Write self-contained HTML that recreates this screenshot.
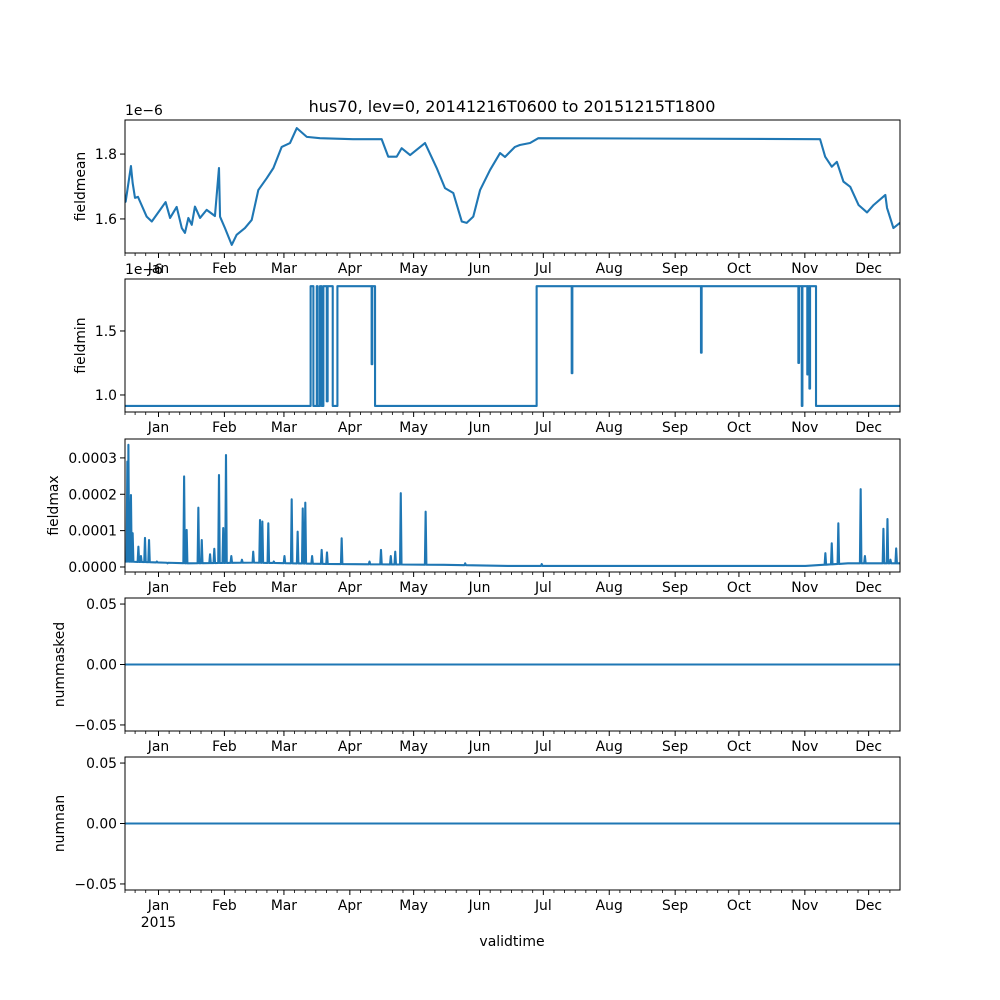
<!DOCTYPE html>
<html><head><meta charset="utf-8"><style>
body{margin:0;background:#fff;}
svg{display:block;font-family:"DejaVu Sans","Liberation Sans",sans-serif;}
</style></head><body>
<svg id="fig" width="1000" height="1000" viewBox="0 0 1000 1000">
<rect width="1000" height="1000" fill="#fff"/>
<text x="512" y="112" font-size="16" text-anchor="middle">hus70, lev=0, 20141216T0600 to 20151215T1800</text>
<text x="512" y="946" font-size="14" text-anchor="middle">validtime</text>
</svg>
<script>
// ---- data (days since 2014-12-16 06:00) ----
const meanDays=[0,0.3,2.8,3.6,4.7,6.1,10.2,12.6,16.5,19.1,21.2,24.3,26.7,28.2,29.8,31.4,32.9,35.3,38.4,42.3,44.2,44.7,47,50.2,52.5,56.4,59.6,62.7,66.7,69.8,73.7,77.6,80.8,85.5,91.7,107.2,120.7,123.8,127.8,130.1,134.1,141.1,146.6,150.5,154.4,158.4,160.7,163.8,167,171.7,176.4,178.7,183.4,185.7,190.5,194.4,326.9,329.3,332.4,334.8,337.9,341.1,345,349,352.1,357.6,358.4,361.4,364.5];
const meanVals=[1.66,1.653,1.763,1.711,1.665,1.668,1.607,1.592,1.628,1.652,1.603,1.637,1.572,1.557,1.603,1.582,1.638,1.603,1.628,1.609,1.757,1.607,1.572,1.52,1.551,1.572,1.597,1.689,1.726,1.757,1.822,1.834,1.88,1.853,1.849,1.846,1.846,1.792,1.792,1.818,1.797,1.834,1.757,1.695,1.68,1.592,1.588,1.607,1.689,1.751,1.803,1.791,1.822,1.828,1.834,1.849,1.846,1.792,1.761,1.776,1.715,1.699,1.643,1.62,1.643,1.674,1.634,1.572,1.588];
const minDays=[0,87.3,87.3,88.6,88.6,90.2,90.2,90.6,90.6,91.7,91.7,92.5,92.5,93.3,93.3,94.9,94.9,95.3,95.3,97.7,97.7,99.9,99.9,116.0,116.0,116.3,116.3,117.6,117.6,193.6,193.6,210.1,210.1,210.4,210.4,270.9,270.9,271.2,271.2,316.7,316.7,317.0,317.0,318.3,318.3,318.6,318.6,320.9,320.9,321.2,321.2,321.9,321.9,322.2,322.2,325.0,325.0,364.5];
const minVals=[0.914,0.914,1.85,1.85,0.914,0.914,1.85,1.85,0.914,0.914,1.85,1.85,0.914,0.914,1.85,1.85,0.95,0.95,1.85,1.85,0.914,0.914,1.85,1.85,1.24,1.24,1.85,1.85,0.914,0.914,1.85,1.85,1.17,1.17,1.85,1.85,1.33,1.33,1.85,1.85,1.25,1.25,1.85,1.85,0.914,0.914,1.85,1.85,1.16,1.16,1.85,1.85,1.05,1.05,1.85,1.85,0.914,0.914];
const spikeDays=[1.1,1.6,2.8,3.6,6.3,7.5,9.4,11.3,15,20,27.8,29,34.5,36.1,40,42,44.2,46.2,47.5,50,55,60.3,63.5,64.6,67.4,70,75,78.4,81.2,83.6,84.8,88,92.5,95,101.9,115,120.4,125,127.1,129.7,141.4,160,196,329.4,332.4,335.5,346,348,356.7,358.6,360,362.7];
const spikeVals=[2.9,3.36,1.98,0.93,0.56,0.3,0.8,0.74,0.15,0.1,2.49,1.02,1.63,0.74,0.35,0.5,2.53,1.07,3.08,0.3,0.2,0.42,1.29,1.25,1.2,0.15,0.3,1.86,0.97,1.61,1.77,0.3,0.47,0.4,0.79,0.15,0.47,0.3,0.42,2.03,1.52,0.1,0.08,0.38,0.65,1.2,2.14,0.3,1.05,1.32,0.2,0.51];
const baseDays=[0,30,60,100,150,180,320,340,364.5];
const baseVals=[0.15,0.1,0.12,0.08,0.06,0.03,0.03,0.1,0.1];
const maskDays=[0,364.5], maskVals=[0,0];
const nanDays=[0,364.5], nanVals=[0,0];
const monthLabels=["Jan","Feb","Mar","Apr","May","Jun","Jul","Aug","Sep","Oct","Nov","Dec"];

const NS="http://www.w3.org/2000/svg";
const svg=document.getElementById('fig');
const X0=125,X1=900,SPAN=364.5;
const t0=Date.UTC(2014,11,16,6);
const xs=d=>X0+d*(X1-X0)/SPAN;
const dayOf=(y,m,dd)=>(Date.UTC(y,m,dd)-t0)/86400000;
function el(tag,attrs,parent){const e=document.createElementNS(NS,tag);for(const k in attrs)e.setAttribute(k,attrs[k]);(parent||svg).appendChild(e);return e;}

const panels=[
 {top:120,name:'fieldmean',lo:1.495,hi:1.905,ticks:[1.6,1.8],fmt:v=>v.toFixed(1),off:'1e\u22126',lx:80,days:meanDays,vals:meanVals},
 {top:279,name:'fieldmin',lo:0.867,hi:1.906,ticks:[1.0,1.5],fmt:v=>v.toFixed(1),off:'1e\u22126',lx:80,days:minDays,vals:minVals},
 {top:439,name:'fieldmax',lo:-0.138,hi:3.52,ticks:[0,1,2,3],fmt:v=>(v*1e-4).toFixed(4),off:null,lx:53},
 {top:598,name:'nummasked',lo:-0.055,hi:0.055,ticks:[-0.05,0,0.05],fmt:v=>v.toFixed(2).replace('-','\u2212'),off:null,lx:59,days:maskDays,vals:maskVals},
 {top:757,name:'numnan',lo:-0.055,hi:0.055,ticks:[-0.05,0,0.05],fmt:v=>v.toFixed(2).replace('-','\u2212'),off:null,lx:59,days:nanDays,vals:nanVals}
];
// fieldmax series from baseline + spikes
(function(){
 const base=d=>{for(let i=1;i<baseDays.length;i++)if(d<=baseDays[i]){const f=(d-baseDays[i-1])/(baseDays[i]-baseDays[i-1]);return baseVals[i-1]+f*(baseVals[i]-baseVals[i-1]);}return baseVals[baseVals.length-1];};
 const pts=[];
 baseDays.forEach(d=>pts.push([d,base(d)]));
 spikeDays.forEach((d,i)=>{pts.push([Math.max(0,d-0.35),base(d)]);pts.push([d,spikeVals[i]]);pts.push([Math.min(SPAN,d+0.35),base(d)]);});
 pts.sort((a,b)=>a[0]-b[0]);
 panels[2].days=pts.map(p=>p[0]);panels[2].vals=pts.map(p=>p[1]);
})();

const H=133;
panels.forEach((p,pi)=>{
 const ys=v=>p.top+H-(v-p.lo)/(p.hi-p.lo)*H;
 const g=el('g',{});
 
 
 const clipId='clip'+pi;
 const cp=el('clipPath',{id:clipId},g);el('rect',{x:X0,y:p.top,width:X1-X0,height:H},cp);
 const pts=p.days.map((d,i)=>xs(d).toFixed(2)+','+ys(p.vals[i]).toFixed(2)).join(' ');
 const line=el('polyline',{points:pts,fill:'none',stroke:'#1f77b4','stroke-width':2.1,'stroke-linejoin':'round','clip-path':`url(#${clipId})`},g);
 
 
 const frame=el('rect',{x:X0,y:p.top,width:X1-X0,height:H,fill:'none',stroke:'#000','stroke-width':1},g);
 
 
 // y ticks
 p.ticks.forEach(v=>{
  const y=ys(v);
  el('line',{x1:X0-5,x2:X0,y1:y,y2:y,stroke:'#000','stroke-width':1},g);
  const t=el('text',{x:X0-8,y:y+5,'font-size':13.9,'text-anchor':'end'},g);t.textContent=p.fmt(v);
  
  
 });
 const yl=el('text',{transform:`translate(${p.lx+5},${p.top+H/2}) rotate(-90)`,'font-size':13.9,'text-anchor':'middle'},g);
 yl.textContent=p.name;
 
 
 if(p.off){const o=el('text',{x:X0,y:p.top-5,'font-size':13.9},g);o.textContent=p.off;
  
  }
 // x ticks
 const bot=p.top+H;
 for(let k=0;k<13;k++){
  const y=k==0?2014:2015, m=k==0?11:k-1;
  [1,6,11,16,21,26].forEach(dd=>{
   const d=dayOf(y,m,dd); if(d<-0.3||d>SPAN+0.01)return;
   const x=xs(Math.max(0,d));
   el('line',{x1:x,x2:x,y1:bot,y2:bot+(dd==1?5:3),stroke:'#000','stroke-width':dd==1?1:0.8},g);
  });
 }
 monthLabels.forEach((mn,i)=>{
  const x=xs(dayOf(2015,i,1));
  const t=el('text',{x:x,y:bot+20,'font-size':13.9,'text-anchor':'middle'},g);t.textContent=mn;
  
  
 });
 if(pi==4){const t=el('text',{x:xs(dayOf(2015,0,1)),y:bot+37,'font-size':13.9,'text-anchor':'middle'},g);t.textContent='2015';
  
  }
});
</script>
</body></html>
